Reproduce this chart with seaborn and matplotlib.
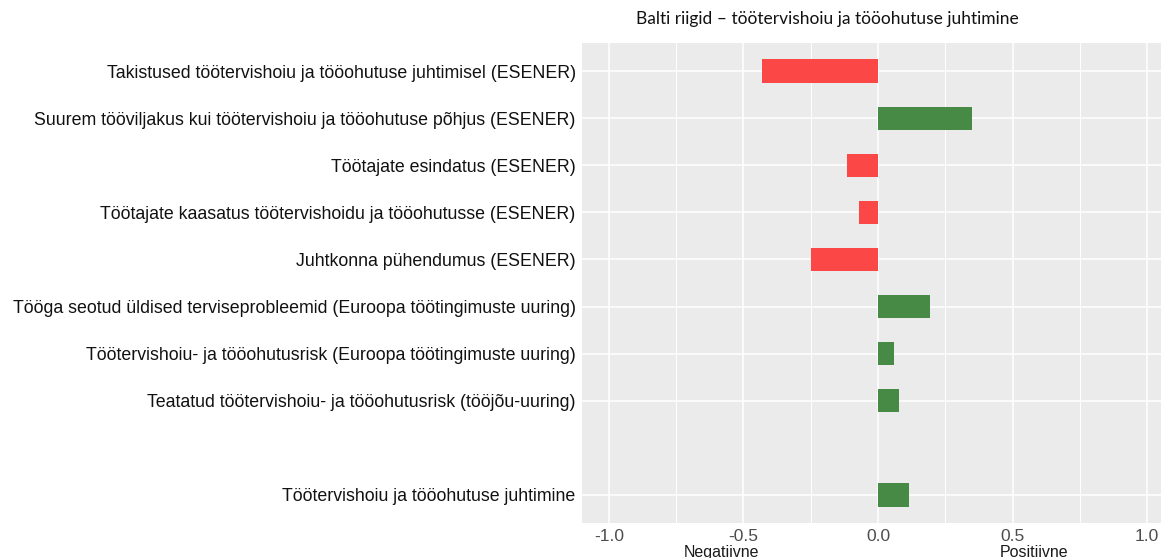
import matplotlib
matplotlib.use("Agg")
import matplotlib.pyplot as plt
import matplotlib.transforms as mtransforms
import seaborn as sns
import pandas as pd

# ---- data ----
categories = [
    "Takistused töötervishoiu ja tööohutuse juhtimisel (ESENER)",
    "Suurem tööviljakus kui töötervishoiu ja tööohutuse põhjus (ESENER)",
    "Töötajate esindatus (ESENER)",
    "Töötajate kaasatus töötervishoidu ja tööohutusse (ESENER)",
    "Juhtkonna pühendumus (ESENER)",
    "Tööga seotud üldised terviseprobleemid (Euroopa töötingimuste uuring)",
    "Töötervishoiu- ja tööohutusrisk (Euroopa töötingimuste uuring)",
    "Teatatud töötervishoiu- ja tööohutusrisk (tööjõu-uuring)",
    "Töötervishoiu ja tööohutuse juhtimine",
]
values = [-0.43, 0.35, -0.116, -0.072, -0.249, 0.193, 0.061, 0.078, 0.117]
blank_label = " "
order = categories[:8] + [blank_label] + categories[8:]
x_ticks = [-1.0, -0.5, 0.0, 0.5, 1.0]
x_ticklabels = ["-1.0", "-0.5", "0.0", "0.5", "1.0"]
title = "Balti riigid – töötervishoiu ja tööohutuse juhtimine"
neg_label, pos_label = "Negatiivne", "Positiivne"

df = pd.DataFrame({"kategooria": categories, "vaartus": values})
df["suund"] = ["pos" if v >= 0 else "neg" for v in values]
palette = {"neg": "#FC4747", "pos": "#468A46"}

# ---- figure ----
sns.set_theme(style="white")
plt.rcParams["font.family"] = ["Liberation Sans", "DejaVu Sans"]

W, H = 1161, 558
fig = plt.figure(figsize=(W / 100, H / 100), dpi=100)
ax = fig.add_axes([582 / W, (H - 523) / H, 592 / W, 480 / H])
ax.set_facecolor("#EBEBEB")

sns.barplot(data=df, y="kategooria", x="vaartus", hue="suund", order=order,
            palette=palette, saturation=1, dodge=False, width=0.5, legend=False,
            orient="h", ax=ax, edgecolor="none", linewidth=0, zorder=3)

ax.set_xlim(-1.1, 1.1)
ax.set_ylim(len(order) - 0.4, -0.6)

# ticks
real_pos = [i for i, c in enumerate(order) if c != blank_label]
ax.set_yticks(real_pos)
ax.set_yticklabels([order[i] for i in real_pos], fontsize=12.8, color="#111111")
ax.set_xticks(x_ticks)
ax.set_xticklabels(x_ticklabels, fontsize=12.5, color="#4D4D4D")
ax.set_xticks([-0.75, -0.25, 0.25, 0.75], minor=True)
ax.tick_params(axis="both", which="major", length=3, width=0.8, color="#555555", pad=1.5)
ax.tick_params(axis="x", which="minor", length=0)

ax.grid(True, which="major", color="white", linewidth=1.1, zorder=0)
ax.grid(True, which="minor", axis="x", color="white", linewidth=0.7, zorder=0)
ax.set_axisbelow(True)
for s in ax.spines.values():
    s.set_visible(False)
ax.set_xlabel("")
ax.set_ylabel("")

trans = mtransforms.blended_transform_factory(ax.transData, ax.transAxes)
ax.text(-0.58, -0.062, neg_label, transform=trans, ha="center", va="center",
        fontsize=11.5, color="#1A1A1A", clip_on=False)
ax.text(0.58, -0.062, pos_label, transform=trans, ha="center", va="center",
        fontsize=11.5, color="#1A1A1A", clip_on=False)

fig.text(827 / W, 1 - 19 / H, title, ha="center", va="center",
         fontsize=12.5, color="#111111", family=["Lato", "DejaVu Sans"])

fig.savefig("out.png", dpi=100)
